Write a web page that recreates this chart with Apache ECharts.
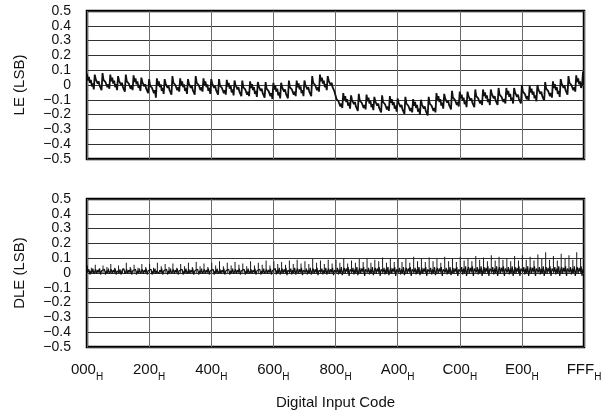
<!DOCTYPE html>
<html>
<head>
<meta charset="utf-8">
<script src="https://cdn.jsdelivr.net/npm/echarts@6/dist/echarts.min.js"></script>
<style>html,body{margin:0;padding:0;background:#fff}#c{width:607px;height:419px}</style>
</head>
<body>
<div id="c"></div>
<script>
// Sample spacing (codes) of the LE and DLE band arrays
const codeStep = 8;
// Spacing (codes) of the DLE spike array
const spikeStep = 32;
const xTickLabels = ['000','200','400','600','800','A00','C00','E00','FFF'];

// LE (LSB), one row per 64-code block, sampled every 8 codes
const leValues = [
 0.075,0.03,0.055,0.015,0.035,-0.01,0.01,-0.03,
 0.07,0.04,0.05,0.01,0.025,-0.005,0.0,-0.035,
 0.08,0.035,0.045,0.02,0.03,-0.015,0.005,-0.025,
 0.07,0.025,0.05,0.01,0.03,-0.015,0.005,-0.035,
 0.06,0.03,0.04,0.0,0.015,-0.015,-0.01,-0.045,
 0.07,0.025,0.035,0.01,0.02,-0.025,-0.005,-0.035,
 0.065,0.02,0.045,0.005,0.025,-0.02,0.0,-0.04,
 0.05,0.02,0.03,-0.01,0.005,-0.025,-0.02,-0.055,
 0.04,-0.005,0.005,-0.02,-0.01,-0.055,-0.035,-0.085,
 0.045,0.0,0.025,-0.015,0.005,-0.04,-0.02,-0.06,
 0.04,0.01,0.02,-0.02,-0.005,-0.035,-0.03,-0.065,
 0.06,0.015,0.025,0.0,0.01,-0.035,-0.015,-0.045,
 0.045,0.0,0.025,-0.015,0.005,-0.04,-0.02,-0.06,
 0.04,0.01,0.02,-0.02,-0.005,-0.035,-0.03,-0.065,
 0.06,0.015,0.025,0.0,0.01,-0.035,-0.015,-0.045,
 0.045,0.0,0.025,-0.015,0.005,-0.04,-0.02,-0.06,
 0.04,0.01,0.02,-0.02,-0.005,-0.035,-0.03,-0.065,
 0.04,-0.005,0.005,-0.02,-0.01,-0.055,-0.035,-0.065,
 0.035,-0.01,0.015,-0.025,-0.005,-0.05,-0.03,-0.07,
 0.03,0.0,0.01,-0.03,-0.015,-0.045,-0.04,-0.075,
 0.03,-0.015,-0.005,-0.03,-0.02,-0.065,-0.045,-0.075,
 0.025,-0.02,0.005,-0.035,-0.015,-0.06,-0.04,-0.08,
 0.02,-0.01,0.0,-0.04,-0.025,-0.055,-0.05,-0.085,
 0.02,-0.025,-0.015,-0.04,-0.03,-0.075,-0.055,-0.095,
 0.015,-0.03,-0.005,-0.045,-0.025,-0.07,-0.05,-0.09,
 0.015,-0.015,-0.005,-0.045,-0.03,-0.06,-0.055,-0.09,
 0.03,-0.015,-0.005,-0.03,-0.02,-0.065,-0.045,-0.075,
 0.03,-0.015,0.01,-0.03,-0.01,-0.055,-0.035,-0.075,
 0.03,0.0,0.01,-0.03,-0.015,-0.045,-0.04,-0.075,
 0.06,0.015,0.025,0.0,0.01,-0.035,-0.015,-0.045,
 0.07,0.025,0.05,0.01,0.03,-0.015,0.005,-0.035,
 0.06,0.03,0.04,0.0,0.015,-0.015,-0.01,-0.045,
 -0.05,-0.095,-0.085,-0.11,-0.1,-0.145,-0.125,-0.155,
 -0.055,-0.1,-0.075,-0.115,-0.095,-0.14,-0.12,-0.16,
 -0.07,-0.1,-0.09,-0.13,-0.115,-0.145,-0.14,-0.175,
 -0.06,-0.105,-0.095,-0.12,-0.11,-0.155,-0.135,-0.165,
 -0.065,-0.11,-0.085,-0.125,-0.105,-0.15,-0.13,-0.17,
 -0.08,-0.11,-0.1,-0.14,-0.125,-0.155,-0.15,-0.185,
 -0.07,-0.115,-0.105,-0.13,-0.12,-0.165,-0.145,-0.175,
 -0.075,-0.12,-0.095,-0.135,-0.115,-0.16,-0.14,-0.18,
 -0.09,-0.12,-0.11,-0.15,-0.135,-0.165,-0.16,-0.195,
 -0.08,-0.125,-0.115,-0.14,-0.13,-0.175,-0.155,-0.185,
 -0.095,-0.14,-0.115,-0.155,-0.135,-0.18,-0.16,-0.2,
 -0.1,-0.13,-0.12,-0.16,-0.145,-0.175,-0.17,-0.205,
 -0.08,-0.125,-0.115,-0.14,-0.13,-0.175,-0.155,-0.185,
 -0.055,-0.1,-0.075,-0.115,-0.095,-0.14,-0.12,-0.16,
 -0.06,-0.09,-0.08,-0.12,-0.105,-0.135,-0.13,-0.165,
 -0.04,-0.085,-0.075,-0.1,-0.09,-0.135,-0.115,-0.145,
 -0.045,-0.09,-0.065,-0.105,-0.085,-0.13,-0.11,-0.15,
 -0.045,-0.075,-0.065,-0.105,-0.09,-0.12,-0.115,-0.15,
 -0.03,-0.075,-0.065,-0.09,-0.08,-0.125,-0.105,-0.135,
 -0.03,-0.075,-0.05,-0.09,-0.07,-0.115,-0.095,-0.135,
 -0.03,-0.06,-0.05,-0.09,-0.075,-0.105,-0.1,-0.135,
 -0.02,-0.065,-0.055,-0.08,-0.07,-0.115,-0.095,-0.125,
 -0.02,-0.065,-0.04,-0.08,-0.06,-0.105,-0.085,-0.125,
 -0.02,-0.05,-0.04,-0.08,-0.065,-0.095,-0.09,-0.125,
 0.0,-0.045,-0.035,-0.06,-0.05,-0.095,-0.075,-0.105,
 -0.005,-0.05,-0.025,-0.065,-0.045,-0.09,-0.07,-0.11,
 0.0,-0.03,-0.02,-0.06,-0.045,-0.075,-0.07,-0.105,
 0.02,-0.025,-0.015,-0.04,-0.03,-0.075,-0.055,-0.085,
 0.025,-0.02,0.005,-0.035,-0.015,-0.06,-0.04,-0.08,
 0.04,0.01,0.02,-0.02,-0.005,-0.035,-0.03,-0.065,
 0.06,0.015,0.025,0.0,0.01,-0.035,-0.015,-0.045,
 0.065,0.02,0.045,0.005,0.025,-0.02,0.0,0.09
];

// DLE (LSB) noise band, one row per 64-code block, sampled every 8 codes
const dleBand = [
 0.02,0.005,0.025,-0.01,0.015,0.0,0.03,-0.005,
 0.01,0.025,-0.005,0.02,0.005,0.03,-0.01,0.015,
 0.02,0.005,0.025,-0.01,0.015,0.0,0.03,-0.005,
 0.01,0.025,-0.005,0.02,0.005,0.03,-0.01,0.015,
 0.02,0.0,0.025,-0.01,0.015,0.005,0.03,-0.005,
 0.01,0.025,-0.005,0.02,0.005,0.03,-0.01,0.015,
 0.02,0.005,0.025,-0.01,0.015,0.0,0.03,-0.005,
 0.01,0.025,-0.005,0.02,0.005,0.03,-0.01,0.015,
 0.02,0.005,0.025,-0.01,0.015,0.0,0.03,-0.005,
 0.015,0.025,-0.005,0.02,0.005,0.03,-0.01,0.015,
 0.02,0.005,0.025,-0.01,0.015,0.0,0.03,-0.005,
 0.01,0.025,-0.005,0.02,0.005,0.03,-0.01,0.015,
 0.02,0.005,0.025,-0.01,0.015,0.0,0.03,-0.005,
 0.01,0.025,-0.005,0.02,0.005,0.03,-0.01,0.015,
 0.02,0.005,0.025,-0.01,0.015,0.0,0.03,-0.005,
 0.01,0.025,-0.005,0.02,0.005,0.03,-0.01,0.015,
 0.02,0.005,0.025,-0.01,0.015,0.0,0.03,-0.005,
 0.01,0.025,-0.005,0.02,0.005,0.03,-0.01,0.015,
 0.02,0.005,0.025,-0.01,0.015,0.0,0.03,-0.005,
 0.01,0.025,-0.005,0.02,0.005,0.03,-0.01,0.015,
 0.02,0.005,0.025,-0.01,0.015,0.0,0.03,-0.005,
 0.01,0.025,-0.005,0.02,0.005,0.03,-0.01,0.015,
 0.02,0.005,0.025,-0.01,0.015,0.0,0.03,-0.005,
 0.01,0.025,-0.005,0.02,0.005,0.03,-0.01,0.015,
 0.025,0.005,0.03,-0.01,0.02,0.0,0.035,-0.01,
 0.015,0.03,-0.005,0.025,0.005,0.035,-0.015,0.02,
 0.025,0.005,0.03,-0.01,0.02,0.0,0.035,-0.01,
 0.015,0.03,-0.005,0.025,0.005,0.035,-0.015,0.02,
 0.025,0.005,0.03,-0.01,0.02,0.0,0.035,-0.01,
 0.015,0.03,-0.005,0.025,0.005,0.035,-0.015,0.02,
 0.025,0.005,0.03,-0.01,0.02,0.0,0.035,-0.01,
 0.015,0.03,-0.005,0.025,0.005,0.035,-0.015,0.02,
 0.03,0.005,0.035,-0.01,0.025,0.0,0.04,-0.015,
 0.015,0.035,-0.005,0.03,0.01,0.04,-0.02,0.025,
 0.03,0.005,0.035,-0.01,0.025,0.0,0.04,-0.015,
 0.015,0.035,-0.005,0.03,0.01,0.04,-0.02,0.025,
 0.03,0.005,0.035,-0.01,0.025,0.0,0.04,-0.015,
 0.015,0.035,-0.005,0.03,0.01,0.04,-0.02,0.025,
 0.03,0.005,0.035,-0.01,0.025,0.0,0.04,-0.015,
 0.015,0.035,-0.005,0.03,0.01,0.04,-0.02,0.025,
 0.03,0.005,0.035,-0.01,0.025,0.0,0.04,-0.015,
 0.015,0.035,-0.005,0.03,0.01,0.04,-0.02,0.025,
 0.03,0.005,0.035,-0.01,0.025,0.0,0.04,-0.015,
 0.015,0.035,-0.005,0.03,0.01,0.04,-0.02,0.025,
 0.03,0.005,0.035,-0.01,0.025,0.0,0.04,-0.015,
 0.015,0.035,-0.005,0.03,0.01,0.04,-0.02,0.025,
 0.03,0.005,0.035,-0.01,0.025,0.0,0.04,-0.015,
 0.015,0.035,-0.005,0.03,0.01,0.04,-0.02,0.025,
 0.035,0.005,0.04,-0.01,0.03,0.0,0.045,-0.02,
 0.02,0.04,-0.005,0.035,0.01,0.045,-0.02,0.03,
 0.035,0.005,0.04,-0.01,0.03,0.0,0.045,-0.02,
 0.02,0.04,-0.005,0.035,0.01,0.045,-0.02,0.03,
 0.035,0.005,0.04,-0.01,0.03,0.0,0.045,-0.02,
 0.02,0.04,-0.005,0.035,0.01,0.045,-0.02,0.03,
 0.035,0.005,0.04,-0.01,0.03,0.0,0.045,-0.02,
 0.02,0.04,-0.005,0.035,0.01,0.045,-0.02,0.03,
 0.035,0.005,0.04,-0.01,0.03,0.0,0.045,-0.02,
 0.02,0.04,-0.005,0.035,0.01,0.045,-0.02,0.03,
 0.035,0.005,0.04,-0.01,0.03,0.0,0.045,-0.02,
 0.02,0.04,-0.005,0.035,0.01,0.045,-0.02,0.03,
 0.035,0.005,0.04,-0.01,0.03,0.0,0.045,-0.02,
 0.02,0.04,-0.005,0.035,0.01,0.045,-0.02,0.03,
 0.035,0.005,0.04,-0.01,0.03,0.0,0.045,-0.02,
 0.02,0.04,-0.005,0.035,0.01,0.045,-0.02,0.03
];

// DLE (LSB) spikes every 32 codes (block boundary, block middle)
const dleSpikes = [
 0.05,0.035, 0.055,0.03, 0.05,0.04, 0.06,0.035, 0.05,0.03, 0.07,0.04, 0.055,0.035, 0.06,0.04,
 0.06,0.035, 0.07,0.045, 0.06,0.04, 0.065,0.035, 0.06,0.045, 0.07,0.04, 0.075,0.045, 0.065,0.04,
 0.07,0.05, 0.08,0.045, 0.07,0.05, 0.075,0.055, 0.065,0.045, 0.08,0.05, 0.07,0.055, 0.085,0.05,
 0.08,0.06, 0.075,0.055, 0.085,0.06, 0.09,0.065, 0.08,0.06, 0.095,0.07, 0.085,0.06, 0.09,0.065,
 0.09,0.07, 0.1,0.065, 0.085,0.07, 0.095,0.075, 0.1,0.07, 0.09,0.08, 0.105,0.07, 0.095,0.075,
 0.1,0.075, 0.095,0.07, 0.11,0.08, 0.1,0.075, 0.105,0.08, 0.095,0.07, 0.11,0.08, 0.1,0.075,
 0.11,0.085, 0.1,0.08, 0.115,0.09, 0.105,0.08, 0.12,0.085, 0.11,0.09, 0.1,0.08, 0.115,0.085,
 0.12,0.09, 0.11,0.085, 0.125,0.095, 0.14,0.09, 0.115,0.085, 0.13,0.095, 0.12,0.09, 0.14,0.1
];

const leData = leValues.map((v, i) => [i * codeStep, v]);
const dleBandData = dleBand.map((v, i) => [i * codeStep, v]);
const dleSpikeData = dleSpikes.map((v, i) => [i * spikeStep + 4, v]);

const FONT = '"Liberation Sans", Arial, sans-serif';
const yFmt = v => {
  if (Math.abs(v) < 1e-9) return '0';
  return v.toFixed(1).replace('-', '\u2212');
};
function xAxisCfg(idx, showLabels) {
  return {
    type: 'value', gridIndex: idx, min: 0, max: 4096, interval: 512,
    axisLine: { show: false }, axisTick: { show: false },
    splitLine: { show: true, lineStyle: { color: '#6a6a6a', width: 1 } },
    axisLabel: showLabels ? {
      show: true, margin: 15, color: '#111', fontFamily: FONT,
      formatter: v => '{v|' + xTickLabels[Math.round(v / 512)] + '}{h|H}',
      rich: {
        v: { fontSize: 15, fontFamily: FONT, color: '#111', lineHeight: 20, verticalAlign: 'top' },
        h: { fontSize: 10, fontFamily: FONT, color: '#111', lineHeight: 20, verticalAlign: 'bottom' }
      }
    } : { show: false },
    name: showLabels ? 'Digital Input Code' : '',
    nameLocation: 'middle', nameGap: 48,
    nameTextStyle: { fontSize: 15, fontFamily: FONT, color: '#111' }
  };
}
function yAxisCfg(idx, name) {
  return {
    type: 'value', gridIndex: idx, min: -0.5, max: 0.5, interval: 0.1,
    axisLine: { show: false }, axisTick: { show: false },
    splitLine: { show: true, lineStyle: { color: '#333', width: 1 } },
    axisLabel: { margin: 16, fontSize: 14, fontFamily: FONT, color: '#111', formatter: yFmt },
    name: name, nameLocation: 'middle', nameGap: 60, nameRotate: 90,
    nameTextStyle: { fontSize: 15, fontFamily: FONT, color: '#111' }
  };
}

const chart = echarts.init(document.getElementById('c'), null, { renderer: 'canvas' });
chart.setOption({
  animation: false,
  backgroundColor: '#fff',
  grid: [
    { left: 87, top: 11, width: 497, height: 148, show: true, borderColor: '#000', borderWidth: 2.5, backgroundColor: 'transparent' },
    { left: 87, top: 199, width: 497, height: 148, show: true, borderColor: '#000', borderWidth: 2.5, backgroundColor: 'transparent' }
  ],
  xAxis: [xAxisCfg(0, false), xAxisCfg(1, true)],
  yAxis: [yAxisCfg(0, 'LE (LSB)'), yAxisCfg(1, 'DLE (LSB)')],
  series: [
    { type: 'line', xAxisIndex: 0, yAxisIndex: 0, data: leData, showSymbol: false, sampling: 'none',
      lineStyle: { color: '#111', width: 1.8 }, z: 3 },
    { type: 'bar', xAxisIndex: 1, yAxisIndex: 1, data: dleSpikeData, barWidth: 1,
      itemStyle: { color: '#1a1a1a' }, z: 3 },
    { type: 'line', xAxisIndex: 1, yAxisIndex: 1, data: dleBandData, showSymbol: false, sampling: 'none',
      lineStyle: { color: '#111', width: 1.2 }, z: 3 }
  ]
});
</script>
</body>
</html>
